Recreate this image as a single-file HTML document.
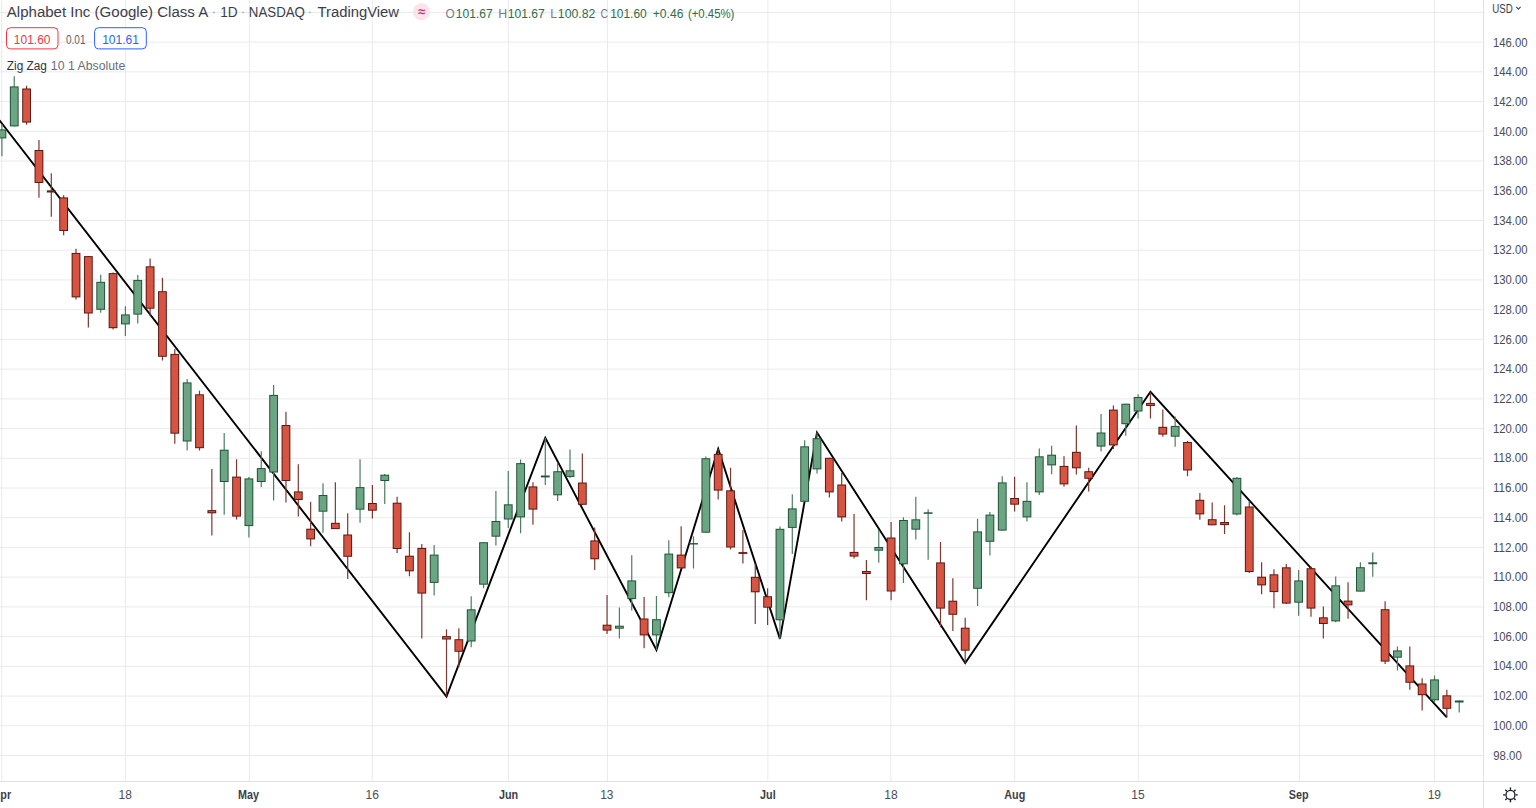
<!DOCTYPE html>
<html><head><meta charset="utf-8"><title>GOOGL</title>
<style>
html,body{margin:0;padding:0;background:#fff;width:1536px;height:808px;overflow:hidden;}
svg{position:absolute;left:0;top:0;}
text{font-family:"Liberation Sans",sans-serif;}
</style></head><body>
<svg width="1536" height="808" viewBox="0 0 1536 808">
<rect width="1536" height="808" fill="#fff"/>
<path d="M0 755.52 H1483.5 M0 725.8 H1483.5 M0 696.08 H1483.5 M0 666.35 H1483.5 M0 636.63 H1483.5 M0 606.9 H1483.5 M0 577.18 H1483.5 M0 547.45 H1483.5 M0 517.73 H1483.5 M0 488 H1483.5 M0 458.28 H1483.5 M0 428.55 H1483.5 M0 398.83 H1483.5 M0 369.11 H1483.5 M0 339.38 H1483.5 M0 309.66 H1483.5 M0 279.93 H1483.5 M0 250.21 H1483.5 M0 220.48 H1483.5 M0 190.76 H1483.5 M0 161.03 H1483.5 M0 131.31 H1483.5 M0 101.59 H1483.5 M0 71.86 H1483.5 M0 42.14 H1483.5 M0 12.41 H1483.5 M1.7 0 V781.5 M125.4 0 V781.5 M249.4 0 V781.5 M372.2 0 V781.5 M508.4 0 V781.5 M607.5 0 V781.5 M767.9 0 V781.5 M890.8 0 V781.5 M1014.7 0 V781.5 M1138.3 0 V781.5 M1299.4 0 V781.5 M1434.5 0 V781.5" stroke="#e9eaee" stroke-width="1" fill="none"/>
<polyline points="-30,82.33 446.5,696.5 545.3,437.8 656.45,650 718.2,449 779.95,638.9 817,432.5 965.2,663 1150.45,391.8 1446.85,717.3" fill="none" stroke="#000" stroke-width="1.9" stroke-linejoin="miter"/>
<path d="M1.9 124 V156.3 M14.25 76.3 V126.4 M100.7 274.7 V312.8 M125.4 306.3 V335.9 M137.75 275 V323.4 M187.15 379.1 V450.4 M224.2 433.1 V514.7 M248.9 477 V537.4 M261.25 451.3 V486.9 M273.6 385 V500.4 M323 483.2 V532.7 M360.05 459.2 V522.8 M384.75 474.1 V503.9 M434.15 545 V595.4 M471.2 596.3 V647.2 M483.55 542.2 V588.3 M495.9 491.1 V545.4 M508.25 471.1 V527.9 M520.6 459.5 V533.2 M545.3 437.8 V484.9 M557.65 462.5 V501.1 M570 449.5 V477.9 M619.4 607.6 V638.5 M631.75 555.3 V610.6 M656.45 596 V650 M668.8 540.2 V597.2 M693.5 536.2 V568.4 M705.85 456.5 V532.7 M779.95 526.6 V638.9 M792.3 494.2 V553.9 M804.65 440.3 V501.8 M817 432.5 V473.4 M878.75 530.1 V562.8 M903.45 517.2 V582.9 M915.8 496.7 V539.5 M928.15 509.3 V559.8 M977.55 518.8 V606.1 M989.9 512.1 V555.4 M1002.25 476.2 V530.6 M1026.95 482.3 V521.4 M1039.3 448.6 V494.9 M1051.65 445.8 V474.3 M1101.05 414.1 V451.4 M1125.75 403.7 V435.8 M1138.1 394.2 V418.5 M1175.15 416.4 V446.7 M1236.9 476.9 V515.5 M1298.65 570 V615.8 M1335.7 576.4 V622.2 M1360.4 562.3 V591.6 M1372.75 552.6 V576.8 M1397.45 646.5 V670.5 M1434.5 675.5 V702.6 M1459.2 700.5 V712.6" stroke="#4c7e62" stroke-width="1.2" fill="none"/>
<path d="M26.6 85.8 V124.7 M38.95 140.1 V197.8 M51.3 173.2 V216.7 M63.65 195.3 V235.3 M76 248.8 V299.6 M88.35 256.1 V327.5 M113.05 272.5 V329.4 M150.1 258.4 V316.2 M162.45 277.8 V360.6 M174.8 349 V443.7 M199.5 390.7 V450.4 M211.85 469.1 V535.4 M236.55 459.2 V519.6 M285.95 411.7 V502.4 M298.3 464.2 V516.6 M310.65 501.8 V546.3 M335.35 482.2 V529.1 M347.7 513.3 V579 M372.4 485.1 V518.6 M397.1 496.7 V553 M409.45 532.3 V576.2 M421.8 544.1 V638.6 M446.5 629.3 V696.5 M458.85 628.2 V667.3 M532.95 482.2 V524.7 M582.35 453.6 V504.8 M594.7 527.4 V570.1 M607.05 595 V633.9 M644.1 596.9 V648.2 M681.15 526.3 V568.4 M718.2 449 V499.4 M730.55 467.7 V549.5 M742.9 530.1 V563.4 M755.25 564 V624 M767.6 588.2 V625 M829.35 457.8 V497.5 M841.7 472.9 V521.4 M854.05 514.1 V558.6 M866.4 560.1 V600.3 M891.1 521.9 V600.3 M940.5 542 V627.2 M952.85 578.2 V630.9 M965.2 617.8 V663 M1014.6 476.7 V511.6 M1064 456.3 V486.8 M1076.35 425.4 V474.4 M1088.7 467.8 V491.6 M1113.4 405.6 V449 M1150.45 391.8 V418.5 M1162.8 409.5 V436.8 M1187.5 441 V476.2 M1199.85 493.1 V519.7 M1212.2 502.5 V525.3 M1224.55 505.3 V534 M1249.25 501.2 V573 M1261.6 562.2 V594.3 M1273.95 569.3 V608.2 M1286.3 563.9 V603.9 M1311 566.4 V616.8 M1323.35 606.4 V638.5 M1348.05 582.3 V618.8 M1385.1 601.2 V663.9 M1409.8 646.5 V689.7 M1422.15 678.3 V710.6 M1446.85 689.7 V717.3" stroke="#7a3a32" stroke-width="1.2" fill="none"/>
<rect x="-2.5" y="129.4" width="8.8" height="9" fill="#225437"/>
<rect x="-1.5" y="130.4" width="6.8" height="7" fill="#6ba583"/>
<rect x="9.85" y="86.4" width="8.8" height="40" fill="#225437"/>
<rect x="10.85" y="87.4" width="6.8" height="38" fill="#6ba583"/>
<rect x="22.2" y="88.5" width="8.8" height="34.1" fill="#5b1a13"/>
<rect x="23.2" y="89.5" width="6.8" height="32.1" fill="#d75442"/>
<rect x="34.55" y="150" width="8.8" height="33" fill="#5b1a13"/>
<rect x="35.55" y="151" width="6.8" height="31" fill="#d75442"/>
<rect x="46.9" y="190.4" width="8.8" height="2.1" fill="#5b1a13"/>
<rect x="47.9" y="191.4" width="6.8" height="0.1" fill="#d75442"/>
<rect x="59.25" y="197.4" width="8.8" height="33.6" fill="#5b1a13"/>
<rect x="60.25" y="198.4" width="6.8" height="31.6" fill="#d75442"/>
<rect x="71.6" y="252.9" width="8.8" height="44.5" fill="#5b1a13"/>
<rect x="72.6" y="253.9" width="6.8" height="42.5" fill="#d75442"/>
<rect x="83.95" y="256.1" width="8.8" height="57.4" fill="#5b1a13"/>
<rect x="84.95" y="257.1" width="6.8" height="55.4" fill="#d75442"/>
<rect x="96.3" y="281.8" width="8.8" height="28" fill="#225437"/>
<rect x="97.3" y="282.8" width="6.8" height="26" fill="#6ba583"/>
<rect x="108.65" y="273.1" width="8.8" height="55.1" fill="#5b1a13"/>
<rect x="109.65" y="274.1" width="6.8" height="53.1" fill="#d75442"/>
<rect x="121" y="314.4" width="8.8" height="10" fill="#225437"/>
<rect x="122" y="315.4" width="6.8" height="8" fill="#6ba583"/>
<rect x="133.35" y="279.9" width="8.8" height="34.7" fill="#225437"/>
<rect x="134.35" y="280.9" width="6.8" height="32.7" fill="#6ba583"/>
<rect x="145.7" y="266.3" width="8.8" height="42.4" fill="#5b1a13"/>
<rect x="146.7" y="267.3" width="6.8" height="40.4" fill="#d75442"/>
<rect x="158.05" y="291.2" width="8.8" height="65.6" fill="#5b1a13"/>
<rect x="159.05" y="292.2" width="6.8" height="63.6" fill="#d75442"/>
<rect x="170.4" y="353.9" width="8.8" height="79.8" fill="#5b1a13"/>
<rect x="171.4" y="354.9" width="6.8" height="77.8" fill="#d75442"/>
<rect x="182.75" y="382.4" width="8.8" height="59.1" fill="#225437"/>
<rect x="183.75" y="383.4" width="6.8" height="57.1" fill="#6ba583"/>
<rect x="195.1" y="394.3" width="8.8" height="53.9" fill="#5b1a13"/>
<rect x="196.1" y="395.3" width="6.8" height="51.9" fill="#d75442"/>
<rect x="207.45" y="510.1" width="8.8" height="3.2" fill="#5b1a13"/>
<rect x="208.45" y="511.1" width="6.8" height="1.2" fill="#d75442"/>
<rect x="219.8" y="449.7" width="8.8" height="32.3" fill="#225437"/>
<rect x="220.8" y="450.7" width="6.8" height="30.3" fill="#6ba583"/>
<rect x="232.15" y="476.6" width="8.8" height="40" fill="#5b1a13"/>
<rect x="233.15" y="477.6" width="6.8" height="38" fill="#d75442"/>
<rect x="244.5" y="478.4" width="8.8" height="47.7" fill="#225437"/>
<rect x="245.5" y="479.4" width="6.8" height="45.7" fill="#6ba583"/>
<rect x="256.85" y="468.1" width="8.8" height="13.9" fill="#225437"/>
<rect x="257.85" y="469.1" width="6.8" height="11.9" fill="#6ba583"/>
<rect x="269.2" y="394.9" width="8.8" height="77.6" fill="#225437"/>
<rect x="270.2" y="395.9" width="6.8" height="75.6" fill="#6ba583"/>
<rect x="281.55" y="425" width="8.8" height="56" fill="#5b1a13"/>
<rect x="282.55" y="426" width="6.8" height="54" fill="#d75442"/>
<rect x="293.9" y="491.4" width="8.8" height="8.6" fill="#5b1a13"/>
<rect x="294.9" y="492.4" width="6.8" height="6.6" fill="#d75442"/>
<rect x="306.25" y="528.7" width="8.8" height="10.7" fill="#5b1a13"/>
<rect x="307.25" y="529.7" width="6.8" height="8.7" fill="#d75442"/>
<rect x="318.6" y="495" width="8.8" height="16.7" fill="#225437"/>
<rect x="319.6" y="496" width="6.8" height="14.7" fill="#6ba583"/>
<rect x="330.95" y="522.8" width="8.8" height="6.3" fill="#5b1a13"/>
<rect x="331.95" y="523.8" width="6.8" height="4.3" fill="#d75442"/>
<rect x="343.3" y="534.5" width="8.8" height="22.3" fill="#5b1a13"/>
<rect x="344.3" y="535.5" width="6.8" height="20.3" fill="#d75442"/>
<rect x="355.65" y="487.1" width="8.8" height="22.6" fill="#225437"/>
<rect x="356.65" y="488.1" width="6.8" height="20.6" fill="#6ba583"/>
<rect x="368" y="503" width="8.8" height="7.7" fill="#5b1a13"/>
<rect x="369" y="504" width="6.8" height="5.7" fill="#d75442"/>
<rect x="380.35" y="474.7" width="8.8" height="6.3" fill="#225437"/>
<rect x="381.35" y="475.7" width="6.8" height="4.3" fill="#6ba583"/>
<rect x="392.7" y="502.7" width="8.8" height="46.3" fill="#5b1a13"/>
<rect x="393.7" y="503.7" width="6.8" height="44.3" fill="#d75442"/>
<rect x="405.05" y="555.7" width="8.8" height="15.6" fill="#5b1a13"/>
<rect x="406.05" y="556.7" width="6.8" height="13.6" fill="#d75442"/>
<rect x="417.4" y="547.9" width="8.8" height="45.7" fill="#5b1a13"/>
<rect x="418.4" y="548.9" width="6.8" height="43.7" fill="#d75442"/>
<rect x="429.75" y="554.6" width="8.8" height="28.3" fill="#225437"/>
<rect x="430.75" y="555.6" width="6.8" height="26.3" fill="#6ba583"/>
<rect x="442.1" y="636.1" width="8.8" height="3.4" fill="#5b1a13"/>
<rect x="443.1" y="637.1" width="6.8" height="1.4" fill="#d75442"/>
<rect x="454.45" y="639.2" width="8.8" height="12.6" fill="#5b1a13"/>
<rect x="455.45" y="640.2" width="6.8" height="10.6" fill="#d75442"/>
<rect x="466.8" y="609.3" width="8.8" height="32.2" fill="#225437"/>
<rect x="467.8" y="610.3" width="6.8" height="30.2" fill="#6ba583"/>
<rect x="479.15" y="542.2" width="8.8" height="42.5" fill="#225437"/>
<rect x="480.15" y="543.2" width="6.8" height="40.5" fill="#6ba583"/>
<rect x="491.5" y="521" width="8.8" height="15.7" fill="#225437"/>
<rect x="492.5" y="522" width="6.8" height="13.7" fill="#6ba583"/>
<rect x="503.85" y="504.3" width="8.8" height="15.2" fill="#225437"/>
<rect x="504.85" y="505.3" width="6.8" height="13.2" fill="#6ba583"/>
<rect x="516.2" y="463.1" width="8.8" height="54.3" fill="#225437"/>
<rect x="517.2" y="464.1" width="6.8" height="52.3" fill="#6ba583"/>
<rect x="528.55" y="486.4" width="8.8" height="23.2" fill="#5b1a13"/>
<rect x="529.55" y="487.4" width="6.8" height="21.2" fill="#d75442"/>
<rect x="540.9" y="475.5" width="8.8" height="1.9" fill="#225437"/>
<rect x="553.25" y="471.2" width="8.8" height="24.1" fill="#225437"/>
<rect x="554.25" y="472.2" width="6.8" height="22.1" fill="#6ba583"/>
<rect x="565.6" y="470.3" width="8.8" height="6.6" fill="#225437"/>
<rect x="566.6" y="471.3" width="6.8" height="4.6" fill="#6ba583"/>
<rect x="577.95" y="482.5" width="8.8" height="22.3" fill="#5b1a13"/>
<rect x="578.95" y="483.5" width="6.8" height="20.3" fill="#d75442"/>
<rect x="590.3" y="540.4" width="8.8" height="18.9" fill="#5b1a13"/>
<rect x="591.3" y="541.4" width="6.8" height="16.9" fill="#d75442"/>
<rect x="602.65" y="624.7" width="8.8" height="5.9" fill="#5b1a13"/>
<rect x="603.65" y="625.7" width="6.8" height="3.9" fill="#d75442"/>
<rect x="615" y="625.7" width="8.8" height="3" fill="#225437"/>
<rect x="616" y="626.7" width="6.8" height="1" fill="#6ba583"/>
<rect x="627.35" y="580.4" width="8.8" height="18.7" fill="#225437"/>
<rect x="628.35" y="581.4" width="6.8" height="16.7" fill="#6ba583"/>
<rect x="639.7" y="618.5" width="8.8" height="16.9" fill="#5b1a13"/>
<rect x="640.7" y="619.5" width="6.8" height="14.9" fill="#d75442"/>
<rect x="652.05" y="619.2" width="8.8" height="16.2" fill="#225437"/>
<rect x="653.05" y="620.2" width="6.8" height="14.2" fill="#6ba583"/>
<rect x="664.4" y="553.6" width="8.8" height="39.6" fill="#225437"/>
<rect x="665.4" y="554.6" width="6.8" height="37.6" fill="#6ba583"/>
<rect x="676.75" y="554.6" width="8.8" height="13.8" fill="#5b1a13"/>
<rect x="677.75" y="555.6" width="6.8" height="11.8" fill="#d75442"/>
<rect x="689.1" y="543.1" width="8.8" height="1.4" fill="#225437"/>
<rect x="701.45" y="458.2" width="8.8" height="74.5" fill="#225437"/>
<rect x="702.45" y="459.2" width="6.8" height="72.5" fill="#6ba583"/>
<rect x="713.8" y="453.9" width="8.8" height="36.7" fill="#5b1a13"/>
<rect x="714.8" y="454.9" width="6.8" height="34.7" fill="#d75442"/>
<rect x="726.15" y="490.3" width="8.8" height="57.2" fill="#5b1a13"/>
<rect x="727.15" y="491.3" width="6.8" height="55.2" fill="#d75442"/>
<rect x="738.5" y="552.1" width="8.8" height="1.8" fill="#5b1a13"/>
<rect x="750.85" y="576.8" width="8.8" height="15.5" fill="#5b1a13"/>
<rect x="751.85" y="577.8" width="6.8" height="13.5" fill="#d75442"/>
<rect x="763.2" y="596.2" width="8.8" height="11.5" fill="#5b1a13"/>
<rect x="764.2" y="597.2" width="6.8" height="9.5" fill="#d75442"/>
<rect x="775.55" y="528.8" width="8.8" height="91.5" fill="#225437"/>
<rect x="776.55" y="529.8" width="6.8" height="89.5" fill="#6ba583"/>
<rect x="787.9" y="508.4" width="8.8" height="19.5" fill="#225437"/>
<rect x="788.9" y="509.4" width="6.8" height="17.5" fill="#6ba583"/>
<rect x="800.25" y="446.3" width="8.8" height="55.5" fill="#225437"/>
<rect x="801.25" y="447.3" width="6.8" height="53.5" fill="#6ba583"/>
<rect x="812.6" y="438.2" width="8.8" height="31.2" fill="#225437"/>
<rect x="813.6" y="439.2" width="6.8" height="29.2" fill="#6ba583"/>
<rect x="824.95" y="457.8" width="8.8" height="34.6" fill="#5b1a13"/>
<rect x="825.95" y="458.8" width="6.8" height="32.6" fill="#d75442"/>
<rect x="837.3" y="484.5" width="8.8" height="32.9" fill="#5b1a13"/>
<rect x="838.3" y="485.5" width="6.8" height="30.9" fill="#d75442"/>
<rect x="849.65" y="551.9" width="8.8" height="4.7" fill="#5b1a13"/>
<rect x="850.65" y="552.9" width="6.8" height="2.7" fill="#d75442"/>
<rect x="862" y="571" width="8.8" height="3" fill="#5b1a13"/>
<rect x="863" y="572" width="6.8" height="1" fill="#d75442"/>
<rect x="874.35" y="547" width="8.8" height="3.7" fill="#225437"/>
<rect x="875.35" y="548" width="6.8" height="1.7" fill="#6ba583"/>
<rect x="886.7" y="537.5" width="8.8" height="54" fill="#5b1a13"/>
<rect x="887.7" y="538.5" width="6.8" height="52" fill="#d75442"/>
<rect x="899.05" y="520" width="8.8" height="44.3" fill="#225437"/>
<rect x="900.05" y="521" width="6.8" height="42.3" fill="#6ba583"/>
<rect x="911.4" y="519.3" width="8.8" height="10.4" fill="#225437"/>
<rect x="912.4" y="520.3" width="6.8" height="8.4" fill="#6ba583"/>
<rect x="923.75" y="512.3" width="8.8" height="1.5" fill="#225437"/>
<rect x="936.1" y="562.4" width="8.8" height="46.2" fill="#5b1a13"/>
<rect x="937.1" y="563.4" width="6.8" height="44.2" fill="#d75442"/>
<rect x="948.45" y="600.7" width="8.8" height="14.1" fill="#5b1a13"/>
<rect x="949.45" y="601.7" width="6.8" height="12.1" fill="#d75442"/>
<rect x="960.8" y="627.7" width="8.8" height="23" fill="#5b1a13"/>
<rect x="961.8" y="628.7" width="6.8" height="21" fill="#d75442"/>
<rect x="973.15" y="531.4" width="8.8" height="57.4" fill="#225437"/>
<rect x="974.15" y="532.4" width="6.8" height="55.4" fill="#6ba583"/>
<rect x="985.5" y="514.6" width="8.8" height="27.2" fill="#225437"/>
<rect x="986.5" y="515.6" width="6.8" height="25.2" fill="#6ba583"/>
<rect x="997.85" y="482.4" width="8.8" height="48.2" fill="#225437"/>
<rect x="998.85" y="483.4" width="6.8" height="46.2" fill="#6ba583"/>
<rect x="1010.2" y="498" width="8.8" height="6.7" fill="#5b1a13"/>
<rect x="1011.2" y="499" width="6.8" height="4.7" fill="#d75442"/>
<rect x="1022.55" y="500.8" width="8.8" height="16.6" fill="#225437"/>
<rect x="1023.55" y="501.8" width="6.8" height="14.6" fill="#6ba583"/>
<rect x="1034.9" y="456.3" width="8.8" height="36.1" fill="#225437"/>
<rect x="1035.9" y="457.3" width="6.8" height="34.1" fill="#6ba583"/>
<rect x="1047.25" y="454.7" width="8.8" height="10.7" fill="#225437"/>
<rect x="1048.25" y="455.7" width="6.8" height="8.7" fill="#6ba583"/>
<rect x="1059.6" y="465.9" width="8.8" height="18.5" fill="#5b1a13"/>
<rect x="1060.6" y="466.9" width="6.8" height="16.5" fill="#d75442"/>
<rect x="1071.95" y="451.8" width="8.8" height="16.5" fill="#5b1a13"/>
<rect x="1072.95" y="452.8" width="6.8" height="14.5" fill="#d75442"/>
<rect x="1084.3" y="471.2" width="8.8" height="7.6" fill="#5b1a13"/>
<rect x="1085.3" y="472.2" width="6.8" height="5.6" fill="#d75442"/>
<rect x="1096.65" y="432.5" width="8.8" height="14.1" fill="#225437"/>
<rect x="1097.65" y="433.5" width="6.8" height="12.1" fill="#6ba583"/>
<rect x="1109" y="409.6" width="8.8" height="35.8" fill="#5b1a13"/>
<rect x="1110" y="410.6" width="6.8" height="33.8" fill="#d75442"/>
<rect x="1121.35" y="403.7" width="8.8" height="20.5" fill="#225437"/>
<rect x="1122.35" y="404.7" width="6.8" height="18.5" fill="#6ba583"/>
<rect x="1133.7" y="397" width="8.8" height="14.5" fill="#225437"/>
<rect x="1134.7" y="398" width="6.8" height="12.5" fill="#6ba583"/>
<rect x="1146.05" y="402.9" width="8.8" height="3.1" fill="#5b1a13"/>
<rect x="1147.05" y="403.9" width="6.8" height="1.1" fill="#d75442"/>
<rect x="1158.4" y="426.8" width="8.8" height="7.8" fill="#5b1a13"/>
<rect x="1159.4" y="427.8" width="6.8" height="5.8" fill="#d75442"/>
<rect x="1170.75" y="425.9" width="8.8" height="10.8" fill="#225437"/>
<rect x="1171.75" y="426.9" width="6.8" height="8.8" fill="#6ba583"/>
<rect x="1183.1" y="442" width="8.8" height="28.5" fill="#5b1a13"/>
<rect x="1184.1" y="443" width="6.8" height="26.5" fill="#d75442"/>
<rect x="1195.45" y="499.8" width="8.8" height="14.6" fill="#5b1a13"/>
<rect x="1196.45" y="500.8" width="6.8" height="12.6" fill="#d75442"/>
<rect x="1207.8" y="519.2" width="8.8" height="6.1" fill="#5b1a13"/>
<rect x="1208.8" y="520.2" width="6.8" height="4.1" fill="#d75442"/>
<rect x="1220.15" y="522" width="8.8" height="3.1" fill="#5b1a13"/>
<rect x="1221.15" y="523" width="6.8" height="1.1" fill="#d75442"/>
<rect x="1232.5" y="477.8" width="8.8" height="36.7" fill="#225437"/>
<rect x="1233.5" y="478.8" width="6.8" height="34.7" fill="#6ba583"/>
<rect x="1244.85" y="506.5" width="8.8" height="65.5" fill="#5b1a13"/>
<rect x="1245.85" y="507.5" width="6.8" height="63.5" fill="#d75442"/>
<rect x="1257.2" y="576.7" width="8.8" height="8.7" fill="#5b1a13"/>
<rect x="1258.2" y="577.7" width="6.8" height="6.7" fill="#d75442"/>
<rect x="1269.55" y="574.3" width="8.8" height="17.8" fill="#5b1a13"/>
<rect x="1270.55" y="575.3" width="6.8" height="15.8" fill="#d75442"/>
<rect x="1281.9" y="567.3" width="8.8" height="36.3" fill="#5b1a13"/>
<rect x="1282.9" y="568.3" width="6.8" height="34.3" fill="#d75442"/>
<rect x="1294.25" y="580.4" width="8.8" height="22.3" fill="#225437"/>
<rect x="1295.25" y="581.4" width="6.8" height="20.3" fill="#6ba583"/>
<rect x="1306.6" y="568.2" width="8.8" height="40.4" fill="#5b1a13"/>
<rect x="1307.6" y="569.2" width="6.8" height="38.4" fill="#d75442"/>
<rect x="1318.95" y="617.3" width="8.8" height="6.7" fill="#5b1a13"/>
<rect x="1319.95" y="618.3" width="6.8" height="4.7" fill="#d75442"/>
<rect x="1331.3" y="585.3" width="8.8" height="36.1" fill="#225437"/>
<rect x="1332.3" y="586.3" width="6.8" height="34.1" fill="#6ba583"/>
<rect x="1343.65" y="600.6" width="8.8" height="4.8" fill="#5b1a13"/>
<rect x="1344.65" y="601.6" width="6.8" height="2.8" fill="#d75442"/>
<rect x="1356" y="567.2" width="8.8" height="24.4" fill="#225437"/>
<rect x="1357" y="568.2" width="6.8" height="22.4" fill="#6ba583"/>
<rect x="1368.35" y="562.3" width="8.8" height="1.9" fill="#225437"/>
<rect x="1380.7" y="609.2" width="8.8" height="52.4" fill="#5b1a13"/>
<rect x="1381.7" y="610.2" width="6.8" height="50.4" fill="#d75442"/>
<rect x="1393.05" y="650.4" width="8.8" height="7.3" fill="#225437"/>
<rect x="1394.05" y="651.4" width="6.8" height="5.3" fill="#6ba583"/>
<rect x="1405.4" y="665.4" width="8.8" height="17.4" fill="#5b1a13"/>
<rect x="1406.4" y="666.4" width="6.8" height="15.4" fill="#d75442"/>
<rect x="1417.75" y="683.5" width="8.8" height="11.7" fill="#5b1a13"/>
<rect x="1418.75" y="684.5" width="6.8" height="9.7" fill="#d75442"/>
<rect x="1430.1" y="679.4" width="8.8" height="20.9" fill="#225437"/>
<rect x="1431.1" y="680.4" width="6.8" height="18.9" fill="#6ba583"/>
<rect x="1442.45" y="695.3" width="8.8" height="13.5" fill="#5b1a13"/>
<rect x="1443.45" y="696.3" width="6.8" height="11.5" fill="#d75442"/>
<rect x="1454.8" y="700.5" width="8.8" height="2" fill="#225437"/>
<path d="M1483.5 0 V808 M0 781.5 H1536" stroke="#e0e1e6" stroke-width="1" fill="none"/>
<text x="1493.29" y="759.51" font-size="12" fill="#4a4d57" textLength="28.44" lengthAdjust="spacingAndGlyphs">98.00</text>
<text x="1492.95" y="729.80" font-size="12" fill="#4a4d57" textLength="34.63" lengthAdjust="spacingAndGlyphs">100.00</text>
<text x="1492.95" y="700.09" font-size="12" fill="#4a4d57" textLength="34.63" lengthAdjust="spacingAndGlyphs">102.00</text>
<text x="1492.95" y="670.38" font-size="12" fill="#4a4d57" textLength="34.63" lengthAdjust="spacingAndGlyphs">104.00</text>
<text x="1492.95" y="640.68" font-size="12" fill="#4a4d57" textLength="34.63" lengthAdjust="spacingAndGlyphs">106.00</text>
<text x="1492.95" y="610.97" font-size="12" fill="#4a4d57" textLength="34.63" lengthAdjust="spacingAndGlyphs">108.00</text>
<text x="1492.93" y="581.26" font-size="12" fill="#4a4d57" textLength="34.67" lengthAdjust="spacingAndGlyphs">110.00</text>
<text x="1492.93" y="551.55" font-size="12" fill="#4a4d57" textLength="34.67" lengthAdjust="spacingAndGlyphs">112.00</text>
<text x="1492.93" y="521.84" font-size="12" fill="#4a4d57" textLength="34.67" lengthAdjust="spacingAndGlyphs">114.00</text>
<text x="1492.93" y="492.14" font-size="12" fill="#4a4d57" textLength="34.67" lengthAdjust="spacingAndGlyphs">116.00</text>
<text x="1492.93" y="462.43" font-size="12" fill="#4a4d57" textLength="34.67" lengthAdjust="spacingAndGlyphs">118.00</text>
<text x="1492.95" y="432.72" font-size="12" fill="#4a4d57" textLength="34.63" lengthAdjust="spacingAndGlyphs">120.00</text>
<text x="1492.95" y="403.01" font-size="12" fill="#4a4d57" textLength="34.63" lengthAdjust="spacingAndGlyphs">122.00</text>
<text x="1492.95" y="373.30" font-size="12" fill="#4a4d57" textLength="34.63" lengthAdjust="spacingAndGlyphs">124.00</text>
<text x="1492.95" y="343.60" font-size="12" fill="#4a4d57" textLength="34.63" lengthAdjust="spacingAndGlyphs">126.00</text>
<text x="1492.95" y="313.89" font-size="12" fill="#4a4d57" textLength="34.63" lengthAdjust="spacingAndGlyphs">128.00</text>
<text x="1492.95" y="284.18" font-size="12" fill="#4a4d57" textLength="34.63" lengthAdjust="spacingAndGlyphs">130.00</text>
<text x="1492.95" y="254.47" font-size="12" fill="#4a4d57" textLength="34.63" lengthAdjust="spacingAndGlyphs">132.00</text>
<text x="1492.95" y="224.76" font-size="12" fill="#4a4d57" textLength="34.63" lengthAdjust="spacingAndGlyphs">134.00</text>
<text x="1492.95" y="195.06" font-size="12" fill="#4a4d57" textLength="34.63" lengthAdjust="spacingAndGlyphs">136.00</text>
<text x="1492.95" y="165.35" font-size="12" fill="#4a4d57" textLength="34.63" lengthAdjust="spacingAndGlyphs">138.00</text>
<text x="1492.95" y="135.64" font-size="12" fill="#4a4d57" textLength="34.63" lengthAdjust="spacingAndGlyphs">140.00</text>
<text x="1492.95" y="105.93" font-size="12" fill="#4a4d57" textLength="34.63" lengthAdjust="spacingAndGlyphs">142.00</text>
<text x="1492.95" y="76.22" font-size="12" fill="#4a4d57" textLength="34.63" lengthAdjust="spacingAndGlyphs">144.00</text>
<text x="1492.95" y="46.52" font-size="12" fill="#4a4d57" textLength="34.63" lengthAdjust="spacingAndGlyphs">146.00</text>
<text x="-7.47" y="798.60" font-size="12" fill="#3b3e48" font-weight="bold" textLength="18.60" lengthAdjust="spacingAndGlyphs">Apr</text>
<text x="118.53" y="798.60" font-size="12" fill="#4a4d57" textLength="13.35" lengthAdjust="spacingAndGlyphs">18</text>
<text x="238.07" y="798.60" font-size="12" fill="#3b3e48" font-weight="bold" textLength="21.01" lengthAdjust="spacingAndGlyphs">May</text>
<text x="365.53" y="798.60" font-size="12" fill="#4a4d57" textLength="13.35" lengthAdjust="spacingAndGlyphs">16</text>
<text x="498.91" y="798.60" font-size="12" fill="#3b3e48" font-weight="bold" textLength="19.20" lengthAdjust="spacingAndGlyphs">Jun</text>
<text x="600.18" y="798.60" font-size="12" fill="#4a4d57" textLength="13.35" lengthAdjust="spacingAndGlyphs">13</text>
<text x="760.09" y="798.60" font-size="12" fill="#3b3e48" font-weight="bold" textLength="15.60" lengthAdjust="spacingAndGlyphs">Jul</text>
<text x="884.23" y="798.60" font-size="12" fill="#4a4d57" textLength="13.35" lengthAdjust="spacingAndGlyphs">18</text>
<text x="1004.31" y="798.60" font-size="12" fill="#3b3e48" font-weight="bold" textLength="20.99" lengthAdjust="spacingAndGlyphs">Aug</text>
<text x="1131.23" y="798.60" font-size="12" fill="#4a4d57" textLength="13.35" lengthAdjust="spacingAndGlyphs">15</text>
<text x="1288.80" y="798.60" font-size="12" fill="#3b3e48" font-weight="bold" textLength="19.81" lengthAdjust="spacingAndGlyphs">Sep</text>
<text x="1427.66" y="798.60" font-size="12" fill="#4a4d57" textLength="13.35" lengthAdjust="spacingAndGlyphs">19</text>
<text x="6.80" y="17.00" font-size="14" fill="#3b3e48" textLength="201.42" lengthAdjust="spacingAndGlyphs">Alphabet Inc (Google) Class A</text>
<text x="220.17" y="17.00" font-size="14" fill="#3b3e48" textLength="17.49" lengthAdjust="spacingAndGlyphs">1D</text>
<text x="248.84" y="17.00" font-size="14" fill="#3b3e48" textLength="56.10" lengthAdjust="spacingAndGlyphs">NASDAQ</text>
<text x="317.50" y="17.00" font-size="14" fill="#3b3e48" textLength="81.57" lengthAdjust="spacingAndGlyphs">TradingView</text>
<circle cx="213.9" cy="12.4" r="0.95" fill="#aeb1ba"/>
<circle cx="243.1" cy="12.4" r="0.95" fill="#aeb1ba"/>
<circle cx="309.9" cy="12.4" r="0.95" fill="#aeb1ba"/>
<text x="445.47" y="17.50" font-size="12" fill="#787b86" textLength="9.20" lengthAdjust="spacingAndGlyphs">O</text>
<text x="455.80" y="17.50" font-size="12" fill="#2b6e47" textLength="36.89" lengthAdjust="spacingAndGlyphs">101.67</text>
<text x="498.21" y="17.50" font-size="12" fill="#787b86" textLength="8.90" lengthAdjust="spacingAndGlyphs">H</text>
<text x="507.84" y="17.50" font-size="12" fill="#2b6e47" textLength="36.94" lengthAdjust="spacingAndGlyphs">101.67</text>
<text x="550.27" y="17.50" font-size="12" fill="#787b86" textLength="6.81" lengthAdjust="spacingAndGlyphs">L</text>
<text x="557.83" y="17.50" font-size="12" fill="#2b6e47" textLength="37.46" lengthAdjust="spacingAndGlyphs">100.82</text>
<text x="600.53" y="17.50" font-size="12" fill="#787b86" textLength="7.56" lengthAdjust="spacingAndGlyphs">C</text>
<text x="610.21" y="17.50" font-size="12" fill="#2b6e47" textLength="36.50" lengthAdjust="spacingAndGlyphs">101.60</text>
<text x="652.80" y="17.50" font-size="12" fill="#2b6e47" textLength="30.59" lengthAdjust="spacingAndGlyphs">+0.46</text>
<text x="687.92" y="17.50" font-size="12" fill="#2b6e47" textLength="46.47" lengthAdjust="spacingAndGlyphs">(+0.45%)</text>
<text x="1492.27" y="12.60" font-size="12" fill="#3b3e48" textLength="20.48" lengthAdjust="spacingAndGlyphs">USD</text>
<text x="66.00" y="43.60" font-size="12" fill="#5d606b" textLength="19.46" lengthAdjust="spacingAndGlyphs">0.01</text>
<text x="6.85" y="69.90" font-size="12" fill="#2f323c" textLength="40.02" lengthAdjust="spacingAndGlyphs">Zig Zag</text>
<text x="50.88" y="69.90" font-size="12" fill="#6a6d78" textLength="74.48" lengthAdjust="spacingAndGlyphs">10 1 Absolute</text>
<path d="M1516.2 6.9 L1518.4 9.1 L1520.6 6.9" stroke="#4a4d57" stroke-width="1.3" fill="none"/>
<g transform="translate(1510.45 794.9)" fill="none" stroke="#131722">
<circle r="4.5" stroke-width="1.3"/>
<path d="M0 -7.3V-5.2M0 7.3V5.2M-7.3 0H-5.2M7.3 0H5.2M-5.1 -5.1L-3.7 -3.7M5.1 5.1L3.7 3.7M-5.1 5.1L-3.7 3.7M5.1 -5.1L3.7 -3.7" stroke-width="1.4"/>
</g>
<!-- legend -->
<circle cx="421.5" cy="11.7" r="8.6" fill="#fce4ec"/>
<text x="421.5" y="15.6" font-size="13" font-weight="bold" fill="#d6336c" text-anchor="middle">≈</text>
<rect x="6.5" y="27.7" width="51.5" height="21.2" rx="4" fill="#fff" stroke="#f23645" stroke-width="1"/>
<text x="32.2" y="43.6" font-size="12" fill="#f23645" text-anchor="middle">101.60</text>
<rect x="94.6" y="27.7" width="51.7" height="21.2" rx="4" fill="#fff" stroke="#2962ff" stroke-width="1"/>
<text x="120.5" y="43.6" font-size="12" fill="#2962ff" text-anchor="middle">101.61</text>
</svg>
</body></html>
